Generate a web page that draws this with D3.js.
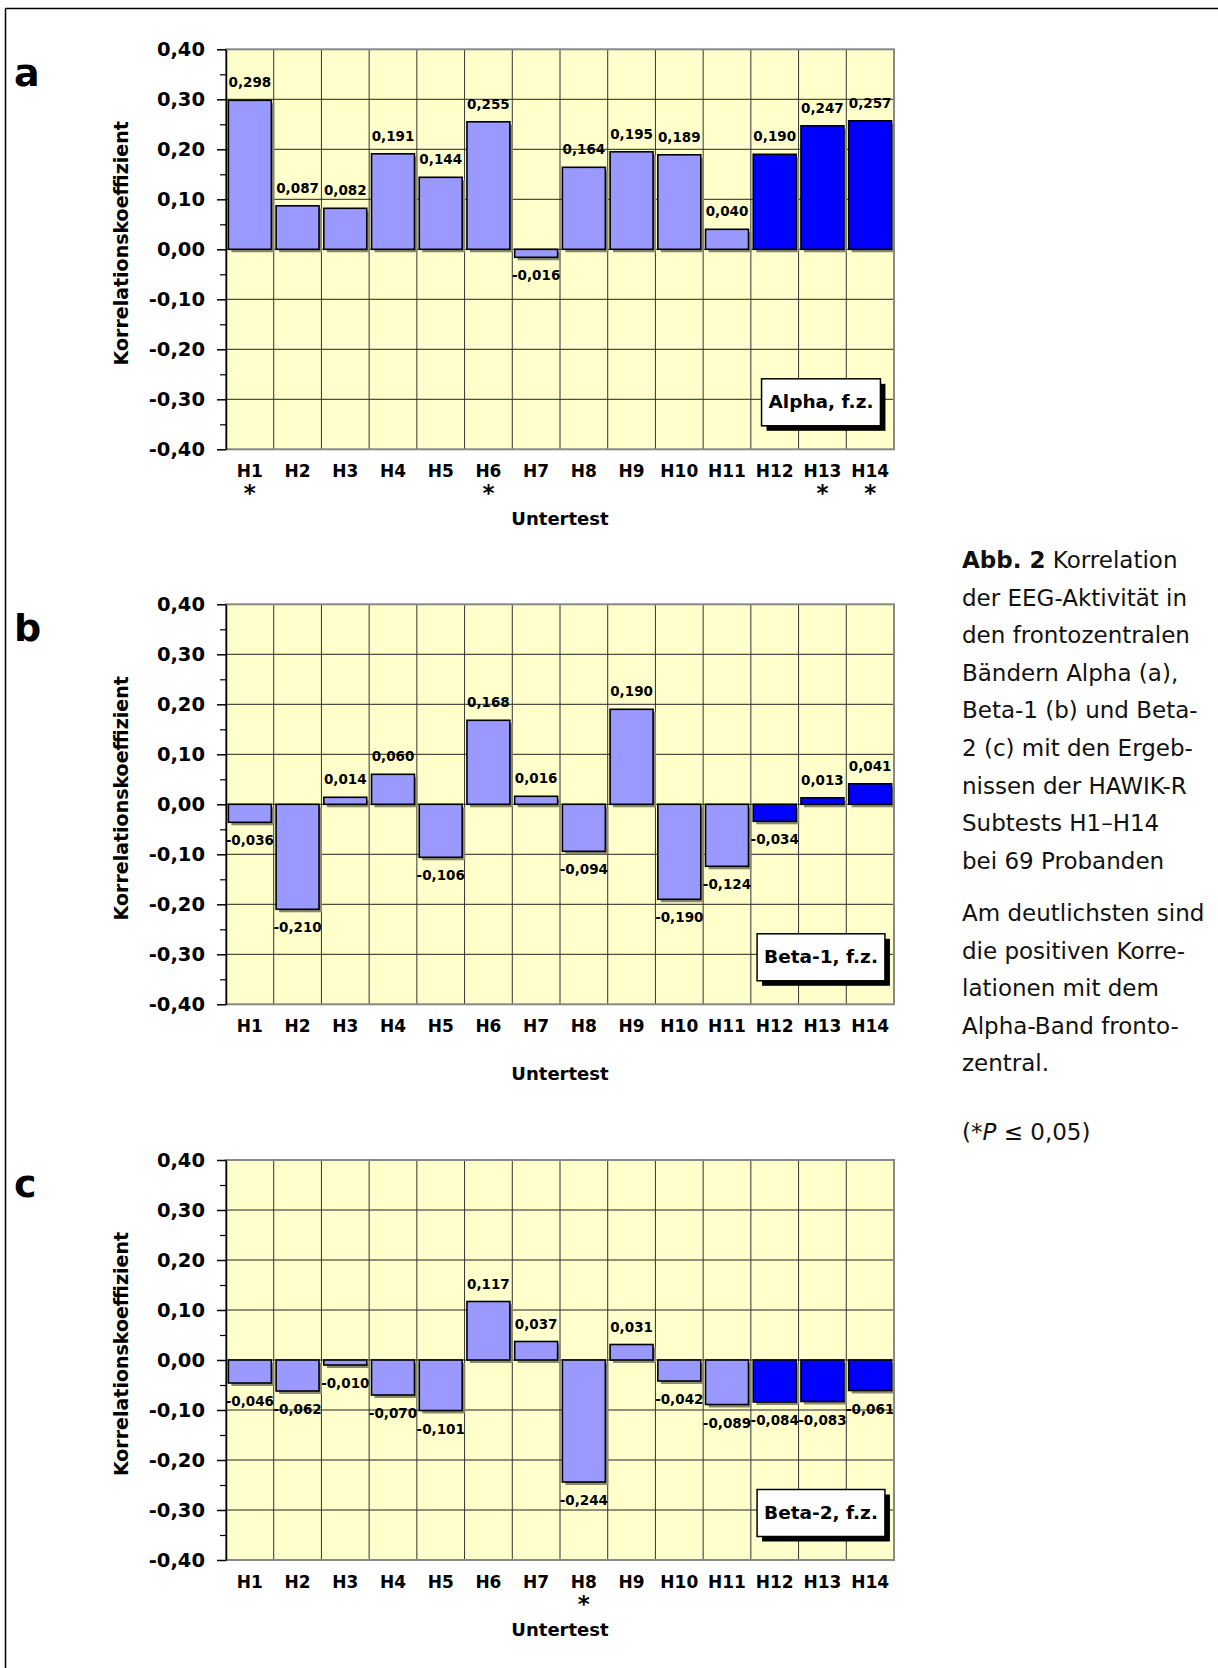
<!DOCTYPE html>
<html>
<head>
<meta charset="utf-8">
<script src="https://cdn.jsdelivr.net/npm/d3@7"></script>
<style>
  body { margin: 0; background: #fff; }
  svg { display: block; }
  text { font-family: "DejaVu Sans", Verdana, sans-serif; }
</style>
</head>
<body>
<svg id="chart" width="1218" height="1668"></svg>
<script>
// subtests
var categories = ["H1","H2","H3","H4","H5","H6","H7","H8","H9","H10","H11","H12","H13","H14"];

// correlation coefficients per band
var alphaValues = [0.298, 0.087, 0.082, 0.191, 0.144, 0.255, -0.016, 0.164, 0.195, 0.189, 0.040, 0.190, 0.247, 0.257];
var beta1Values = [-0.036, -0.210, 0.014, 0.060, -0.106, 0.168, 0.016, -0.094, 0.190, -0.190, -0.124, -0.034, 0.013, 0.041];
var beta2Values = [-0.046, -0.062, -0.010, -0.070, -0.101, 0.117, 0.037, -0.244, 0.031, -0.042, -0.089, -0.084, -0.083, -0.061];

// significant subtests (*P <= 0,05)
var alphaStars = ["H1","H6","H13","H14"];
var beta1Stars = [];
var beta2Stars = ["H8"];

var darkCategories = ["H12","H13","H14"];

var yTicks = [0.4, 0.3, 0.2, 0.1, 0, -0.1, -0.2, -0.3, -0.4];
var yMinorTicks = [0.35, 0.25, 0.15, 0.05, -0.05, -0.15, -0.25, -0.35];

var panelLetters = ["a", "b", "c"];
var panelLabels = ["Alpha, f.z.", "Beta-1, f.z.", "Beta-2, f.z."];

var captionLines1 = ["der EEG-Aktivität in", "den frontozentralen", "Bändern Alpha (a),",
  "Beta-1 (b) und Beta-", "2 (c) mit den Ergeb-", "nissen der HAWIK-R", "Subtests H1–H14", "bei 69 Probanden"];
var captionLines2 = ["Am deutlichsten sind", "die positiven Korre-", "lationen mit dem", "Alpha-Band fronto-", "zentral."];

var locale = d3.formatLocale({decimal: ",", thousands: ".", grouping: [3], currency: ["", "€"], minus: "-"});
var fmtTick = locale.format(".2f");
var fmtVal = locale.format(".3f");

var svg = d3.select("#chart");

// frame (top and left only)
svg.append("line").attr("x1", 5.5).attr("x2", 1218).attr("y1", 8.5).attr("y2", 8.5)
  .attr("stroke", "#000").attr("stroke-width", 1.5);
svg.append("line").attr("x1", 5.5).attr("x2", 5.5).attr("y1", 8.5).attr("y2", 1668)
  .attr("stroke", "#000").attr("stroke-width", 1.5);

var plotLeft = 226, plotRight = 894, plotH = 400;
var tops = [49.3, 604.3, 1160];

var x = d3.scaleBand().domain(categories).range([plotLeft, plotRight]).paddingInner(0.1).paddingOuter(0.05);
var step = x.step();

var panels = [
  {values: alphaValues, stars: alphaStars},
  {values: beta1Values, stars: beta1Stars},
  {values: beta2Values, stars: beta2Stars}
];

panels.forEach(function(p, i) {
  var top = tops[i];
  var y = d3.scaleLinear().domain([-0.4, 0.4]).range([top + plotH, top]);
  var g = svg.append("g");

  // background
  g.append("rect").attr("x", plotLeft).attr("y", top).attr("width", plotRight - plotLeft).attr("height", plotH)
    .attr("fill", "#ffffcc");

  // grid
  g.selectAll(".hgrid").data(yTicks.slice(1, -1)).join("line")
    .attr("x1", plotLeft).attr("x2", plotRight)
    .attr("y1", d => y(d)).attr("y2", d => y(d))
    .attr("stroke", "#222").attr("stroke-width", 1);
  g.selectAll(".vgrid").data(categories.slice(1)).join("line")
    .attr("x1", (d, j) => plotLeft + step * (j + 1)).attr("x2", (d, j) => plotLeft + step * (j + 1))
    .attr("y1", top).attr("y2", top + plotH)
    .attr("stroke", "#333").attr("stroke-width", 1);

  var data = categories.map((c, j) => ({cat: c, v: p.values[j]}));

  // bar shadows
  g.selectAll(".shadow").data(data).join("rect")
    .attr("x", d => x(d.cat) + 3)
    .attr("y", d => Math.min(y(d.v), y(0)) + 3)
    .attr("width", x.bandwidth())
    .attr("height", d => Math.abs(y(d.v) - y(0)))
    .attr("fill", "#8a8a70");

  // bars
  g.selectAll(".bar").data(data).join("rect")
    .attr("x", d => x(d.cat))
    .attr("y", d => Math.min(y(d.v), y(0)))
    .attr("width", x.bandwidth())
    .attr("height", d => Math.abs(y(d.v) - y(0)))
    .attr("fill", d => darkCategories.includes(d.cat) ? "#0000ff" : "#9999ff")
    .attr("stroke", "#000").attr("stroke-width", 1.6);

  // value labels
  g.selectAll(".val").data(data).join("text")
    .attr("x", d => x(d.cat) + x.bandwidth() / 2)
    .attr("y", d => d.v >= 0 ? y(d.v) - 13 : y(d.v) + 23)
    .attr("text-anchor", "middle")
    .attr("font-size", 13.5).attr("font-weight", "bold")
    .text(d => fmtVal(d.v));

  // plot border
  g.append("rect").attr("x", plotLeft).attr("y", top).attr("width", plotRight - plotLeft).attr("height", plotH)
    .attr("fill", "none").attr("stroke", "#888").attr("stroke-width", 2);

  // y axis
  var axis = g.append("g").attr("transform", "translate(" + plotLeft + ",0)")
    .call(d3.axisLeft(y).tickValues(yTicks).tickSize(9).tickSizeOuter(0).tickPadding(12).tickFormat(fmtTick));
  axis.select(".domain").attr("stroke", "#000").attr("stroke-width", 1.5);
  axis.selectAll(".tick line").attr("stroke", "#000").attr("stroke-width", 1.5);
  axis.selectAll("text").attr("font-size", 19.5).attr("font-weight", "bold")
    .attr("font-family", "'DejaVu Sans', Verdana, sans-serif").attr("fill", "#000");
  var minor = g.append("g").attr("transform", "translate(" + plotLeft + ",0)")
    .call(d3.axisLeft(y).tickValues(yMinorTicks).tickSize(6).tickSizeOuter(0).tickFormat(""));
  minor.select(".domain").remove();
  minor.selectAll(".tick line").attr("stroke", "#000").attr("stroke-width", 1.2);

  // x labels
  g.selectAll(".xl").data(categories).join("text")
    .attr("x", d => x(d) + x.bandwidth() / 2)
    .attr("y", top + plotH + 28)
    .attr("text-anchor", "middle")
    .attr("font-size", 17).attr("font-weight", "bold")
    .text(d => d);

  // significance stars
  g.selectAll(".star").data(p.stars).join("text")
    .attr("x", d => x(d) + x.bandwidth() / 2)
    .attr("y", top + plotH + 52)
    .attr("text-anchor", "middle")
    .attr("font-size", 23).attr("font-weight", "bold")
    .text("*");

  // axis titles
  g.append("text")
    .attr("x", (plotLeft + plotRight) / 2).attr("y", top + plotH + 76)
    .attr("text-anchor", "middle").attr("font-size", 18).attr("font-weight", "bold")
    .text("Untertest");
  g.append("text")
    .attr("transform", "translate(128," + (top + plotH / 2 - 6) + ") rotate(-90)")
    .attr("text-anchor", "middle").attr("font-size", 19).attr("font-weight", "bold")
    .text("Korrelationskoeffizient");

  // panel letter
  g.append("text").attr("x", 14).attr("y", top + 37)
    .attr("font-size", 38).attr("font-weight", "bold")
    .text(panelLetters[i]);

  // band label box
  var lbl = g.append("g");
  var t = lbl.append("text")
    .attr("x", 821).attr("y", top + 359)
    .attr("text-anchor", "middle").attr("font-size", 18.5).attr("font-weight", "bold")
    .text(panelLabels[i]);
  var bb = t.node().getBBox();
  var bx = bb.x - 7, bw = bb.width + 14, by = top + 329.5, bh = 47;
  lbl.insert("rect", "text").attr("x", bx + 5).attr("y", by + 5).attr("width", bw).attr("height", bh).attr("fill", "#000");
  lbl.insert("rect", "text").attr("x", bx).attr("y", by).attr("width", bw).attr("height", bh)
    .attr("fill", "#fff").attr("stroke", "#000").attr("stroke-width", 1.5);
});

// caption
var cap = svg.append("g").attr("font-size", 23).attr("fill", "#111");
var capX = 962;
var line1 = cap.append("text").attr("x", capX).attr("y", 568);
line1.append("tspan").attr("font-weight", "bold").text("Abb. 2");
line1.append("tspan").text(" Korrelation");
cap.selectAll(".c1").data(captionLines1).join("text")
  .attr("x", capX).attr("y", (d, j) => 568 + 37.6 * (j + 1)).text(d => d);
cap.selectAll(".c2").data(captionLines2).join("text")
  .attr("x", capX).attr("y", (d, j) => 921 + 37.6 * j).text(d => d);
var note = cap.append("text").attr("x", capX).attr("y", 1140);
note.append("tspan").text("(*");
note.append("tspan").attr("font-style", "italic").text("P");
note.append("tspan").text(" ≤ 0,05)");
</script>
</body>
</html>
